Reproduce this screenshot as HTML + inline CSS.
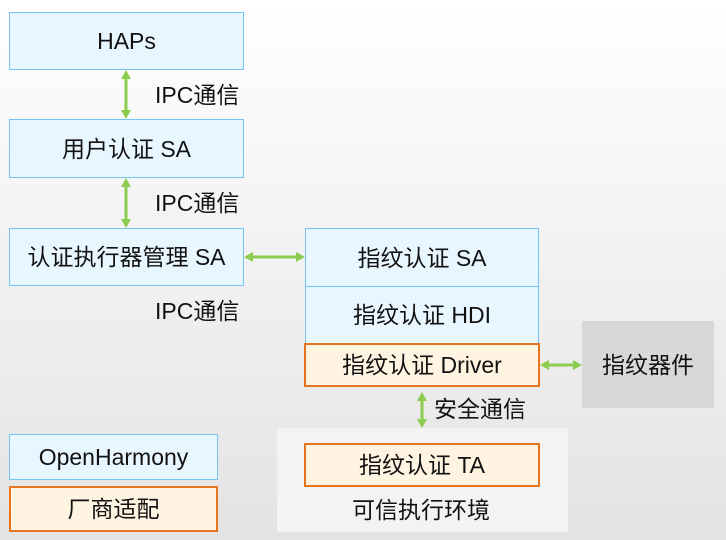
<!DOCTYPE html>
<html><head><meta charset="utf-8"><style>
html,body{margin:0;padding:0}
body{width:726px;height:540px;position:relative;overflow:hidden;background:linear-gradient(#ffffff,#e3e3e3);font-family:"Liberation Sans","Noto Sans CJK SC",sans-serif;font-size:23px;color:#111}
.b{position:absolute;box-sizing:border-box;display:flex;align-items:center;justify-content:center;white-space:nowrap;line-height:28px}
.blue{background:#e8f6ff;border:1px solid #74c5f5}
.or{background:#fff4e2;border:2px solid #e5761f}
.t{position:absolute;white-space:nowrap;line-height:30px}
svg{position:absolute;left:0;top:0}
</style></head><body>
<div class="b" style="left:277px;top:428px;width:291px;height:104px;background:#f3f3f3"></div>
<div class="b" style="left:582px;top:321px;width:132px;height:87px;background:#d8d8d8">指纹器件</div>
<div class="b blue" style="left:9px;top:12px;width:235px;height:58px">HAPs</div>
<div class="b blue" style="left:9px;top:119px;width:235px;height:59px">用户认证 SA</div>
<div class="b blue" style="left:9px;top:228px;width:235px;height:58px">认证执行器管理 SA</div>
<div class="b blue" style="left:305px;top:228px;width:234px;height:59px">指纹认证 SA</div>
<div class="b blue" style="left:305px;top:286px;width:234px;height:58px">指纹认证 HDI</div>
<div class="b or" style="left:304px;top:343px;width:236px;height:44px">指纹认证 Driver</div>
<div class="b or" style="left:304px;top:443px;width:236px;height:44px">指纹认证 TA</div>
<div class="b blue" style="left:9px;top:434px;width:209px;height:46px">OpenHarmony</div>
<div class="b or" style="left:9px;top:486px;width:209px;height:46px">厂商适配</div>
<div class="t" style="left:155px;top:80px">IPC通信</div>
<div class="t" style="left:155px;top:188px">IPC通信</div>
<div class="t" style="left:155px;top:296px">IPC通信</div>
<div class="t" style="left:434px;top:394px">安全通信</div>
<div class="t" style="left:352px;top:495px">可信执行环境</div>
<svg width="726" height="540" viewBox="0 0 726 540">
<g stroke="#8dcc4e" stroke-width="3" fill="#8dcc4e">
<line x1="126" y1="76" x2="126" y2="113"/>
<line x1="126" y1="184" x2="126" y2="222"/>
<line x1="250" y1="257" x2="299" y2="257"/>
<line x1="546" y1="365" x2="576" y2="365"/>
<line x1="422" y1="398" x2="422" y2="422"/>
</g>
<g fill="#8dcc4e">
<polygon points="126,70 121,79 131,79"/><polygon points="126,119 121,110 131,110"/>
<polygon points="126,178 121,187 131,187"/><polygon points="126,228 121,219 131,219"/>
<polygon points="244,257 253,252 253,262"/><polygon points="305,257 296,252 296,262"/>
<polygon points="540,365 549,360 549,370"/><polygon points="582,365 573,360 573,370"/>
<polygon points="422,392 417,401 427,401"/><polygon points="422,428 417,419 427,419"/>
</g>
</svg>
</body></html>
